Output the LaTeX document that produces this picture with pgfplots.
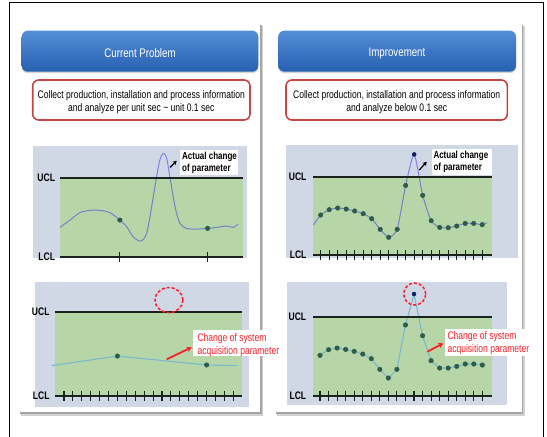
\documentclass[border=0pt]{standalone}
\usepackage{pgfplots}
\pgfplotsset{compat=1.18}
\usepackage{fontspec}
\setmainfont{Liberation Sans}[FakeStretch=0.78]
\usetikzlibrary{shadows,arrows.meta}
\definecolor{chartbg}{RGB}{208,216,230}
\definecolor{band}{RGB}{183,214,167}
\definecolor{limline}{RGB}{28,34,28}
\definecolor{curve}{RGB}{60,60,230}
\definecolor{tealline}{RGB}{120,185,205}
\definecolor{dot}{RGB}{45,92,75}
\definecolor{peak}{RGB}{15,30,100}
\definecolor{hdtop}{RGB}{84,142,216}
\definecolor{hdbot}{RGB}{38,96,176}
\definecolor{boxred}{RGB}{195,70,70}
\definecolor{annred}{RGB}{250,30,40}
\definecolor{panel}{RGB}{165,165,165}
\tikzset{
  lim/.style={limline, line width=1.8bp},
  lbl/.style={anchor=east, font=\bfseries\fontsize{11}{11}\selectfont, inner sep=0pt},
  blk/.style={anchor=base west, inner sep=0pt, font=\bfseries\fontsize{10.3}{11}\selectfont},
  redt/.style={anchor=base west, inner sep=0pt, annred, font=\fontsize{11}{12}\selectfont},
}
\pgfplotsset{
  chart/.style={scale only axis, clip mode=individual, anchor=south west,
    axis line style={draw=none}, xtick=\empty, ytick=\empty,
    axis background/.style={fill=chartbg}},
  tickmk/.style={only marks, mark=|, mark size=5bp, mark options={line width=1.1bp, limline}},
  dots/.style={only marks, mark=*, mark size=2.3bp, color=dot},
}
\begin{document}
\begin{tikzpicture}[x=1bp,y=1bp]
\path[use as bounding box] (0,0) rectangle (547,-437);
% outer frame
\draw[black, line width=1bp] (9,-440) -- (9,-2.7) -- (543.3,-2.7) -- (543.3,-440);
% panels
\draw[panel!50, line width=1.5bp] (262.5,-26) -- (262.5,-415) -- (21,-415);
\draw[panel, line width=1.5bp] (261,-25) -- (261,-413) -- (20,-413);
\draw[panel!50, line width=1.5bp] (524,-26) -- (524,-415) -- (277,-415);
\draw[panel, line width=1.5bp] (522.5,-25) -- (522.5,-413) -- (276,-413);
% headers
\path[top color=hdtop, bottom color=hdbot, rounded corners=6bp,
  drop shadow={shadow xshift=0bp, shadow yshift=-1.5bp, opacity=0.35}]
  (21.7,-30.7) rectangle (258.3,-71.7);
\path[top color=hdtop, bottom color=hdbot, rounded corners=6bp,
  drop shadow={shadow xshift=0bp, shadow yshift=-1.5bp, opacity=0.35}]
  (278.3,-30.7) rectangle (516,-71.7);
\node[white, font=\fontsize{12.5}{14}\selectfont] at (140,-53.3) {Current Problem};
\node[white, font=\fontsize{12.5}{14}\selectfont] at (397,-53.3) {Improvement};
% red boxes
\draw[boxred, line width=1.6bp, fill=white, rounded corners=6bp] (32.7,-80) rectangle (250,-120);
\draw[boxred, line width=1.6bp, fill=white, rounded corners=6bp] (286,-80) rectangle (507.3,-120);
\node[align=center, font=\fontsize{11}{13.6}\selectfont] at (141.3,-102.3)
  {Collect production, installation and process information\\and analyze per unit sec \textasciitilde{} unit 0.1 sec};
\node[align=center, font=\fontsize{11}{13.6}\selectfont] at (396.7,-102.3)
  {Collect production, installation and process information\\and analyze below 0.1 sec};

% ---------- top left ----------
\begin{axis}[chart, at={(33.3bp,-258.3bp)}, width=213.7bp, height=112.3bp,
  xmin=-14.6, xmax=102.4, ymin=-2, ymax=140.1]
\fill[band] (axis cs:0,0) rectangle (axis cs:100,100);
\addplot[curve, opacity=0.55, line width=1bp, smooth, tension=0.5] coordinates {
 (0,37.1) (5.5,46.4) (10.9,55.7) (16.4,58.6) (21.9,58.6) (27.4,55.7) (32.8,46.4)
 (36.5,38.0) (40.1,25.3) (44.2,19.8) (47.4,29.5) (50.2,63.3) (52.9,101.3)
 (54.7,122.4) (56.6,130.8) (58.4,124.5) (60.2,101.3) (63.0,63.3) (65.7,42.2)
 (69.3,35.9) (74.8,35.0) (80.8,35.9) (85.8,37.1) (91.2,38.8) (94.9,37.1) (97.6,41.4)};
\draw[lim] (axis cs:0,100) -- (axis cs:100.3,100);
\draw[lim] (axis cs:0,0) -- (axis cs:100.3,0);
\addplot[tickmk] coordinates {(32.8,0) (80.8,0)};
\addplot[dots] coordinates {(32.8,46.4) (80.8,35.9)};
\node[lbl] at (axis cs:-2.6,100) {UCL};
\node[lbl] at (axis cs:-2.6,0) {LCL};
\end{axis}

% ---------- top right ----------
\begin{axis}[chart, at={(286bp,-258.3bp)}, width=232.3bp, height=113.3bp,
  xmin=-3.08, xmax=24.25, ymin=-4.2, ymax=140.5]
\fill[band] (axis cs:0.13,0) rectangle (axis cs:21.12,100);
\addplot[curve, opacity=0.55, line width=1bp, smooth, tension=0.35] coordinates {
 (0.14,38.3) (1,51.1) (2,57.9) (3,60.0) (4,58.7) (5,56.2) (6,52.8) (7,46.4) (8,32.8)
 (9,22.6) (10,32.8) (11,88.9) (12,128.5) (13,76.2) (14,43.8) (15,35.3) (16,34.9)
 (17,37.0) (18,40.4) (19,40.4) (20,38.7) (20.53,41.3)};
\draw[lim] (axis cs:0.13,100) -- (axis cs:21.12,100);
\draw[lim] (axis cs:0.13,0) -- (axis cs:21.12,0);
\addplot[tickmk] coordinates {(1,0) (2,0) (3,0) (4,0) (5,0) (6,0) (7,0) (8,0) (9,0) (10,0)
 (11,0) (12,0) (13,0) (14,0) (15,0) (16,0) (17,0) (18,0) (19,0) (20,0)};
\addplot[dots] coordinates {(1,51.1) (2,57.9) (3,60.0) (4,58.7) (5,56.2) (6,52.8) (7,46.4)
 (8,32.8) (9,22.6) (10,32.8) (11,88.9) (13,76.2) (14,43.8) (15,35.3) (16,34.9)
 (17,37.0) (18,40.4) (19,40.4) (20,38.7)};
\addplot[only marks, mark=*, mark size=2bp, color=peak] coordinates {(12,128.5)};
\node[lbl] at (axis cs:-0.65,100) {UCL};
\node[lbl] at (axis cs:-0.65,0) {LCL};
\end{axis}

% ---------- bottom left ----------
\begin{axis}[chart, at={(35bp,-406.7bp)}, width=214.3bp, height=125bp,
  xmin=-2.25, xmax=21.79, ymin=-12.7, ymax=135.6]
\fill[band] (axis cs:-0.01,0) rectangle (axis cs:20.94,100);
\addplot[tealline, line width=1.1bp] coordinates {(-0.38,36.0) (7,47.4) (17,36.8) (20.37,36.0)};
\draw[lim] (axis cs:-0.01,100) -- (axis cs:20.94,100);
\draw[lim] (axis cs:-0.01,0) -- (axis cs:20.94,0);
\addplot[tickmk] coordinates {(1,0) (2,0) (3,0) (4,0) (5,0) (6,0) (7,0) (8,0) (9,0) (10,0)
 (11,0) (12,0) (13,0) (14,0) (15,0) (16,0) (17,0) (18,0) (19,0) (20,0)};
\addplot[dots] coordinates {(7,47.4) (17,36.8)};
\draw[annred, line width=1.5bp, dash pattern=on 3bp off 2bp]
  (axis cs:12.78,113.8) ellipse [x radius=14bp, y radius=12.5bp];
\node[lbl] at (axis cs:-0.6,100) {UCL};
\node[lbl] at (axis cs:-0.6,0) {LCL};
\end{axis}

% ---------- bottom right ----------
\begin{axis}[chart, at={(286.7bp,-405bp)}, width=220bp, height=123.3bp,
  xmin=-2.9, xmax=22.85, ymin=-11.8, ymax=144.3]
\fill[band] (axis cs:0.15,0) rectangle (axis cs:21.1,100);
\addplot[tealline, line width=1.1bp] coordinates {
 (1,51.1) (2,58.2) (3,60.3) (4,58.6) (5,56.1) (6,52.7) (7,46.8) (8,33.3) (9,22.4)
 (10,33.3) (11,89.5) (12,128.7) (13,75.9) (14,44.3) (15,35.0) (16,35.0) (17,37.1)
 (18,40.1) (19,40.1) (20,38.8)};
\draw[lim] (axis cs:0.15,100) -- (axis cs:21.1,100);
\draw[lim] (axis cs:0.15,0) -- (axis cs:21.1,0);
\addplot[tickmk] coordinates {(1,0) (2,0) (3,0) (4,0) (5,0) (6,0) (7,0) (8,0) (9,0) (10,0)
 (11,0) (12,0) (13,0) (14,0) (15,0) (16,0) (17,0) (18,0) (19,0) (20,0)};
\addplot[dots] coordinates {(1,51.1) (2,58.2) (3,60.3) (4,58.6) (5,56.1) (6,52.7) (7,46.8)
 (8,33.3) (9,22.4) (10,33.3) (11,89.5) (13,75.9) (14,44.3) (15,35.0) (16,35.0)
 (17,37.1) (18,40.1) (19,40.1) (20,38.8)};
\addplot[only marks, mark=*, mark size=2bp, color=peak] coordinates {(12,128.7)};
\draw[annred, line width=1.5bp, dash pattern=on 3bp off 2bp]
  (axis cs:12.08,128.7) ellipse [x radius=11bp, y radius=11bp];
\node[lbl] at (axis cs:-0.6,100) {UCL};
\node[lbl] at (axis cs:-0.6,0) {LCL};
\end{axis}

% ---------- annotations ----------
\fill[white] (180,-150) rectangle (238.3,-175.5);
\node[blk] at (182,-159.5) {Actual change};
\node[blk] at (182,-171.8) {of parameter};
\draw[-{Stealth[length=4bp,width=4.5bp]}, line width=1.2bp] (170,-167.5) -- (176.7,-160.7);

\fill[white] (431.7,-149.3) rectangle (491.7,-174.8);
\node[blk] at (433.3,-158.5) {Actual change};
\node[blk] at (433.3,-170.8) {of parameter};
\draw[-{Stealth[length=4bp,width=4.5bp]}, line width=1.2bp] (419.3,-170) -- (426.7,-161.7);

\fill[white] (193.3,-329.7) rectangle (283.3,-356.3);
\node[redt] at (197.3,-341) {Change of system};
\node[redt] at (197.3,-354) {acquisition parameter};
\draw[annred, -{Stealth[length=5bp,width=5.5bp]}, line width=1.8bp] (166.7,-359.3) -- (191.7,-347.3);

\fill[white] (445,-329.3) rectangle (531,-355.5);
\node[redt] at (447.3,-339.4) {Change of system};
\node[redt] at (447.3,-352.7) {acquisition parameter};
\draw[annred, -{Stealth[length=5bp,width=5.5bp]}, line width=1.8bp] (427.3,-351.7) -- (443.3,-343.3);
\end{tikzpicture}
\end{document}
